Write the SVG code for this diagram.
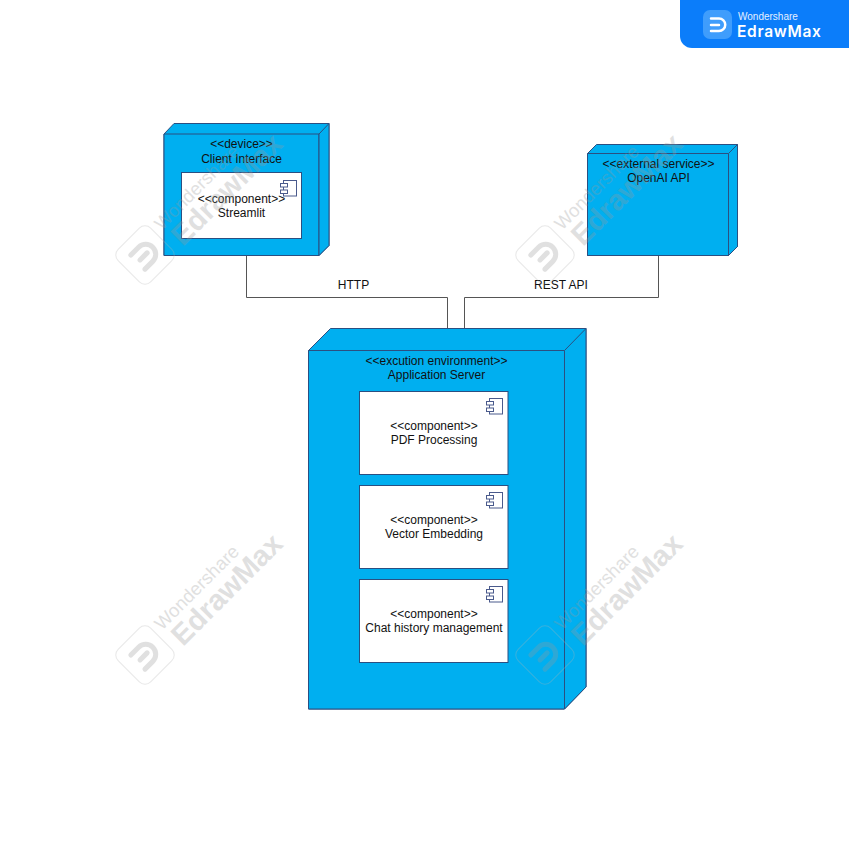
<svg xmlns="http://www.w3.org/2000/svg" width="849" height="850" viewBox="0 0 849 850">
<style>
text{font-family:"Liberation Sans",Arial,sans-serif;font-size:12px;fill:#111;text-anchor:middle}
.n{fill:#00aff0;stroke:#2b4f81;stroke-width:1;stroke-linejoin:round}
.c{fill:#fff;stroke:#2b4f81;stroke-width:1}
.i{fill:#fff;stroke:#4a5a8c;stroke-width:1}
.l{fill:none;stroke:#555;stroke-width:1}
.wm1{font-size:18.500px;fill:#9a9a9a;text-anchor:start}
.wm2{font-size:29px;font-weight:bold;fill:#9a9a9a;text-anchor:start}
</style>
<defs>
<g id="icon">
<rect class="i" x="3" y="0" width="13" height="15.500"/>
<rect class="i" x="0" y="3" width="7" height="3.500"/>
<rect class="i" x="0" y="9.500" width="7" height="3.500"/>
</g>
<g id="wm" opacity="0.3">
<rect x="-23" y="-23" width="46" height="46" rx="8" transform="rotate(45)" fill="none" stroke="#b5b5b5" stroke-width="1"/>
<path d="M-10 -10H1A10 10 0 0 1 1 10H-10M-7 0H3" transform="rotate(-45)" fill="none" stroke="#9a9a9a" stroke-width="5" stroke-linecap="round"/>
<text class="wm1" transform="translate(17 -24) rotate(-45)">Wondershare</text>
<text class="wm2" transform="translate(38 -8) rotate(-45)">EdrawMax</text>
</g>
</defs>
<rect width="849" height="850" fill="#fff"/>
<g id="connectors">
<path class="l" d="M246.500 256V297.500H447.500V328"/>
<path class="l" d="M658.500 256V297.500H464.500V328"/>
<text x="353.500" y="289">HTTP</text>
<text x="561" y="289">REST API</text>
</g>
<g id="client-interface">
<path class="n" d="M164 134L174 123.500H329V245.500L319 255.500H164Z"/>
<path class="n" d="M164 134H319V255.500H164Z"/>
<path class="n" d="M319 134L329 123.500V245.500L319 255.500Z"/>
<text x="241.500" y="148">&lt;&lt;device&gt;&gt;</text>
<text x="241.500" y="163">Client Interface</text>
<g id="streamlit">
<rect class="c" x="181.500" y="172.500" width="120" height="66"/>
<use href="#icon" x="280.500" y="180.500"/>
<text x="241.500" y="203">&lt;&lt;component&gt;&gt;</text>
<text x="241.500" y="217">Streamlit</text>
</g>
</g>
<g id="openai-api">
<path class="n" d="M587.500 153.500L596.500 144.500H737.500V246.500L728.500 255.500H587.500Z"/>
<path class="n" d="M587.500 153.500H728.500V255.500H587.500Z"/>
<path class="n" d="M728.500 153.500L737.500 144.500V246.500L728.500 255.500Z"/>
<text x="658.500" y="168">&lt;&lt;external service&gt;&gt;</text>
<text x="658.500" y="182">OpenAI API</text>
</g>
<g id="application-server">
<path class="n" d="M308.500 350.500L330.500 328.500H586V687L564.500 709H308.500Z"/>
<path class="n" d="M308.500 350.500H564.500V709H308.500Z"/>
<path class="n" d="M564.500 350.500L586 328.500V687L564.500 709Z"/>
<text x="436.500" y="365">&lt;&lt;excution environment&gt;&gt;</text>
<text x="436.500" y="379">Application Server</text>
<g id="pdf-processing">
<rect class="c" x="359.500" y="391.500" width="148.500" height="83"/>
<use href="#icon" x="486.500" y="398.500"/>
<text x="434" y="430">&lt;&lt;component&gt;&gt;</text>
<text x="434" y="444">PDF Processing</text>
</g>
<g id="vector-embedding">
<rect class="c" x="359.500" y="485.500" width="148.500" height="83"/>
<use href="#icon" x="486.500" y="492.500"/>
<text x="434" y="524">&lt;&lt;component&gt;&gt;</text>
<text x="434" y="538">Vector Embedding</text>
</g>
<g id="chat-history">
<rect class="c" x="359.500" y="579.500" width="148.500" height="83"/>
<use href="#icon" x="486.500" y="586.500"/>
<text x="434" y="618">&lt;&lt;component&gt;&gt;</text>
<text x="434" y="632">Chat history management</text>
</g>
</g>
<g id="watermarks">
<use href="#wm" x="145" y="255"/>
<use href="#wm" x="545" y="255"/>
<use href="#wm" x="145" y="655"/>
<use href="#wm" x="545" y="655"/>
</g>
<g id="badge">
<path d="M680 0H849V48H692A12 12 0 0 1 680 36Z" fill="#0b7dfa"/>
<rect x="703" y="10" width="29" height="29" rx="7" fill="#3f9dfc"/>
<path d="M711 18.500H719A6 6 0 0 1 719 31H711M711 25H719" fill="none" stroke="#fff" stroke-width="2.500" stroke-linecap="round"/>
<text x="738" y="19.500" style="font-size:10px;fill:#e4f0ff;text-anchor:start">Wondershare</text>
<text x="737" y="36.500" style="font-family:Inter,'Liberation Sans',sans-serif;font-size:15.500px;font-weight:600;letter-spacing:0.700px;fill:#fff;text-anchor:start">EdrawMax</text>
</g>
</svg>
